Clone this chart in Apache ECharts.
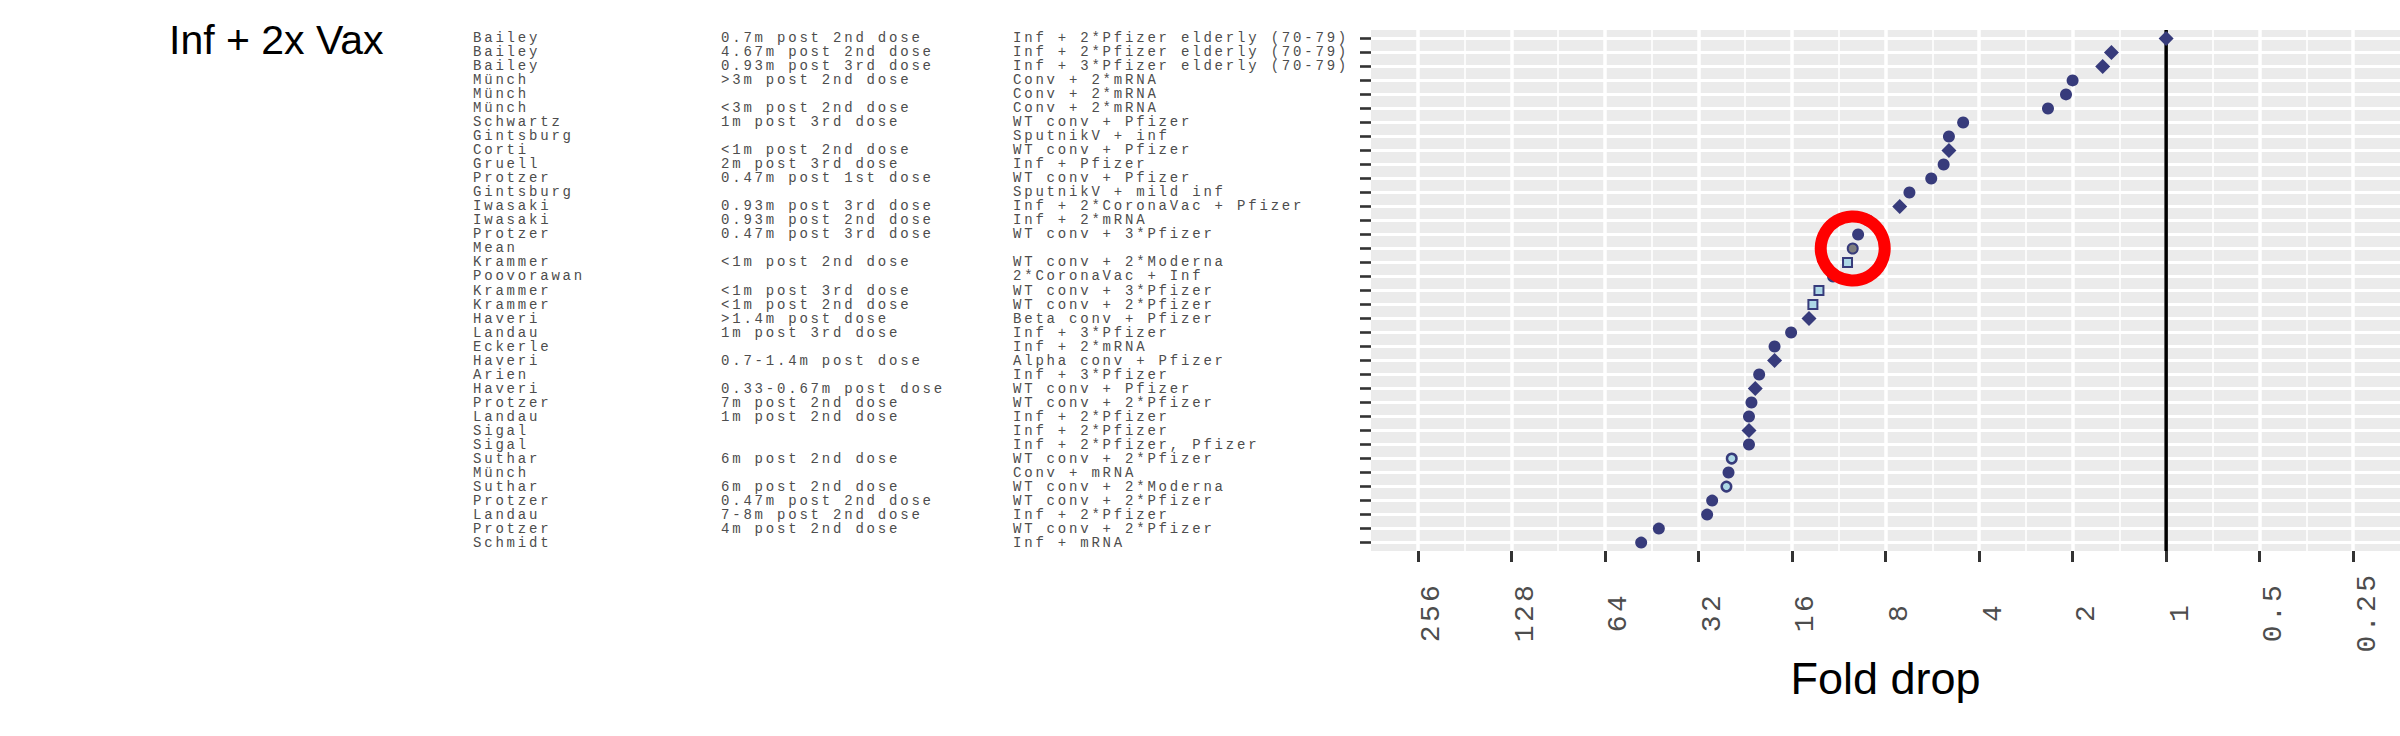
<!DOCTYPE html>
<html><head><meta charset="utf-8">
<script src="https://cdn.jsdelivr.net/npm/echarts@6/dist/echarts.min.js"></script>
<style>
html,body{margin:0;padding:0;background:#fff;}
#chart{width:2400px;height:736px;}
#chart text[style*="Liberation Mono"]{letter-spacing:2.8px;}
#chart text[style*="Liberation Mono"][style*="28px"]{letter-spacing:3.4px;}
</style></head>
<body><div id="chart"></div>
<script>
const authors = ['Bailey','Bailey','Bailey','Münch','Münch','Münch','Schwartz','Gintsburg','Corti','Gruell','Protzer','Gintsburg','Iwasaki','Iwasaki','Protzer','Mean','Krammer','Poovorawan','Krammer','Krammer','Haveri','Landau','Eckerle','Haveri','Arien','Haveri','Protzer','Landau','Sigal','Sigal','Suthar','Münch','Suthar','Protzer','Landau','Protzer','Schmidt'];
const timing = ['0.7m post 2nd dose','4.67m post 2nd dose','0.93m post 3rd dose','>3m post 2nd dose','','<3m post 2nd dose','1m post 3rd dose','','<1m post 2nd dose','2m post 3rd dose','0.47m post 1st dose','','0.93m post 3rd dose','0.93m post 2nd dose','0.47m post 3rd dose','','<1m post 2nd dose','','<1m post 3rd dose','<1m post 2nd dose','>1.4m post dose','1m post 3rd dose','','0.7-1.4m post dose','','0.33-0.67m post dose','7m post 2nd dose','1m post 2nd dose','','','6m post 2nd dose','','6m post 2nd dose','0.47m post 2nd dose','7-8m post 2nd dose','4m post 2nd dose',''];
const cohort = ['Inf + 2*Pfizer elderly (70-79)','Inf + 2*Pfizer elderly (70-79)','Inf + 3*Pfizer elderly (70-79)','Conv + 2*mRNA','Conv + 2*mRNA','Conv + 2*mRNA','WT conv + Pfizer','SputnikV + inf','WT conv + Pfizer','Inf + Pfizer','WT conv + Pfizer','SputnikV + mild inf','Inf + 2*CoronaVac + Pfizer','Inf + 2*mRNA','WT conv + 3*Pfizer','','WT conv + 2*Moderna','2*CoronaVac + Inf','WT conv + 3*Pfizer','WT conv + 2*Pfizer','Beta conv + Pfizer','Inf + 3*Pfizer','Inf + 2*mRNA','Alpha conv + Pfizer','Inf + 3*Pfizer','WT conv + Pfizer','WT conv + 2*Pfizer','Inf + 2*Pfizer','Inf + 2*Pfizer','Inf + 2*Pfizer, Pfizer','WT conv + 2*Pfizer','Conv + mRNA','WT conv + 2*Moderna','WT conv + 2*Pfizer','Inf + 2*Pfizer','WT conv + 2*Pfizer','Inf + mRNA'];
const foldDrop = [1.0,1.5,1.6,2.0,2.1,2.4,4.5,5.0,5.0,5.2,5.7,6.7,7.2,9.1,9.8,10.2,10.6,11.8,13.1,13.7,14.1,16.1,18.2,18.2,20.4,21.0,21.6,22.0,22.0,22.0,25.0,25.6,26.0,28.9,30.0,42.9,48.9];
const markerKind = ['pseudo','pseudo','pseudo','live','live','live','live','live','pseudo','live','live','live','pseudo','live','live','mean','square','live','square','square','pseudo','live','live','pseudo','live','pseudo','live','live','pseudo','live','open','live','open','live','live','live','live'];
const xTickLabels = ['256','128','64','32','16','8','4','2','1','0.5','0.25'];
const titleText = 'Inf + 2x Vax';
const xAxisTitle = 'Fold drop';
const referenceLine = 1;

const xTicks = xTickLabels.map(Number);
const xMinor = xTicks.slice(0, -1).map(t => t / Math.SQRT2);
const rows = authors.map((_, i) => i);
const navy = '#373B7B';
const mono = 'Liberation Mono';

const styles = {
  live:   {symbol: 'circle', symbolSize: 12, itemStyle: {color: navy, opacity: 1}},
  pseudo: {symbol: 'diamond', symbolSize: 15, itemStyle: {color: navy, opacity: 1}},
  square: {symbol: 'rect', symbolSize: 9, itemStyle: {color: '#ADD8E6', borderColor: navy, borderWidth: 2, opacity: 1}},
  open:   {symbol: 'circle', symbolSize: 9.5, itemStyle: {color: '#ADD8E6', borderColor: navy, borderWidth: 2.5, opacity: 1}},
  mean:   {symbol: 'circle', symbolSize: 10, itemStyle: {color: '#7F7F7F', borderColor: navy, borderWidth: 2, opacity: 1}}
};

const series = [{
  type: 'line', z: 1, silent: true, symbol: 'none',
  data: [[referenceLine, -0.6], [referenceLine, authors.length - 0.4]],
  lineStyle: {color: '#000', width: 3.5}
}];
Object.keys(styles).forEach(k => {
  const data = rows.filter(i => markerKind[i] === k).map(i => [foldDrop[i], i]);
  series.push(Object.assign({type: 'scatter', z: 3, data: data}, styles[k]));
});
const meanIdx = authors.indexOf('Mean');
series.push({
  type: 'scatter', z: 4, silent: true, symbol: 'circle', symbolSize: 64,
  data: [[foldDrop[meanIdx], meanIdx]],
  itemStyle: {color: 'rgba(0,0,0,0)', borderColor: '#FF0000', borderWidth: 12, opacity: 1}
});

function yAxisCol(labels, margin, main) {
  return {
    type: 'value', inverse: true, min: -0.6, max: authors.length - 0.4, position: 'left', gridIndex: 0,
    axisLine: {show: false, onZero: false},
    axisTick: main ? {show: true, length: 11, lineStyle: {color: '#333333', width: 2.6}, customValues: rows} : {show: false},
    splitLine: main ? {show: true, lineStyle: {color: '#FFFFFF', width: 3}} : {show: false},
    axisLabel: {
      customValues: rows, align: 'left', margin: margin,
      fontFamily: mono, fontSize: 14, color: '#4D4D4D',
      formatter: v => labels[Math.round(v)] || ''
    }
  };
}

const chart = echarts.init(document.getElementById('chart'), null, {renderer: 'svg'});
chart.setOption({
  animation: false,
  backgroundColor: '#FFFFFF',
  title: {text: titleText, left: 164, top: 14, textStyle: {fontFamily: 'Liberation Sans', fontSize: 41, fontWeight: 'normal', color: '#000'}},
  grid: {left: 1371, right: 0, top: 30, bottom: 185, show: true, backgroundColor: '#EBEBEB', borderWidth: 0, containLabel: false, outerBoundsMode: 'none'},
  xAxis: [{
    type: 'log', logBase: 2, inverse: true, min: Math.pow(2, -2.5), max: Math.pow(2, 8.5), position: 'bottom',
    axisLine: {show: false, onZero: false},
    axisTick: {show: true, length: 11, lineStyle: {color: '#333333', width: 3}, customValues: xTicks},
    splitLine: {show: true, lineStyle: {color: '#FFFFFF', width: 3.5}},
    axisLabel: {
      customValues: xTicks, rotate: 90, align: 'center', verticalAlign: 'top', margin: 61,
      fontFamily: mono, fontSize: 28, color: '#4D4D4D',
      formatter: v => { let best = 0; xTicks.forEach((t, j) => { if (Math.abs(Math.log2(t) - Math.log2(v)) < Math.abs(Math.log2(xTicks[best]) - Math.log2(v))) best = j; }); return xTickLabels[best]; }
    },
    name: xAxisTitle, nameLocation: 'middle', nameGap: 105,
    nameTextStyle: {fontFamily: 'Liberation Sans', fontSize: 45, color: '#000'}
  }, {
    type: 'log', logBase: 2, inverse: true, min: Math.pow(2, -2.5), max: Math.pow(2, 8.5), position: 'bottom',
    axisLine: {show: false, onZero: false},
    axisTick: {show: false, customValues: xMinor},
    axisLabel: {show: false},
    splitLine: {show: true, lineStyle: {color: '#FFFFFF', width: 1.6}}
  }],
  yAxis: [yAxisCol(authors, 898, true), yAxisCol(timing, 650, false), yAxisCol(cohort, 358, false)],
  series: series
});
</script></body></html>
